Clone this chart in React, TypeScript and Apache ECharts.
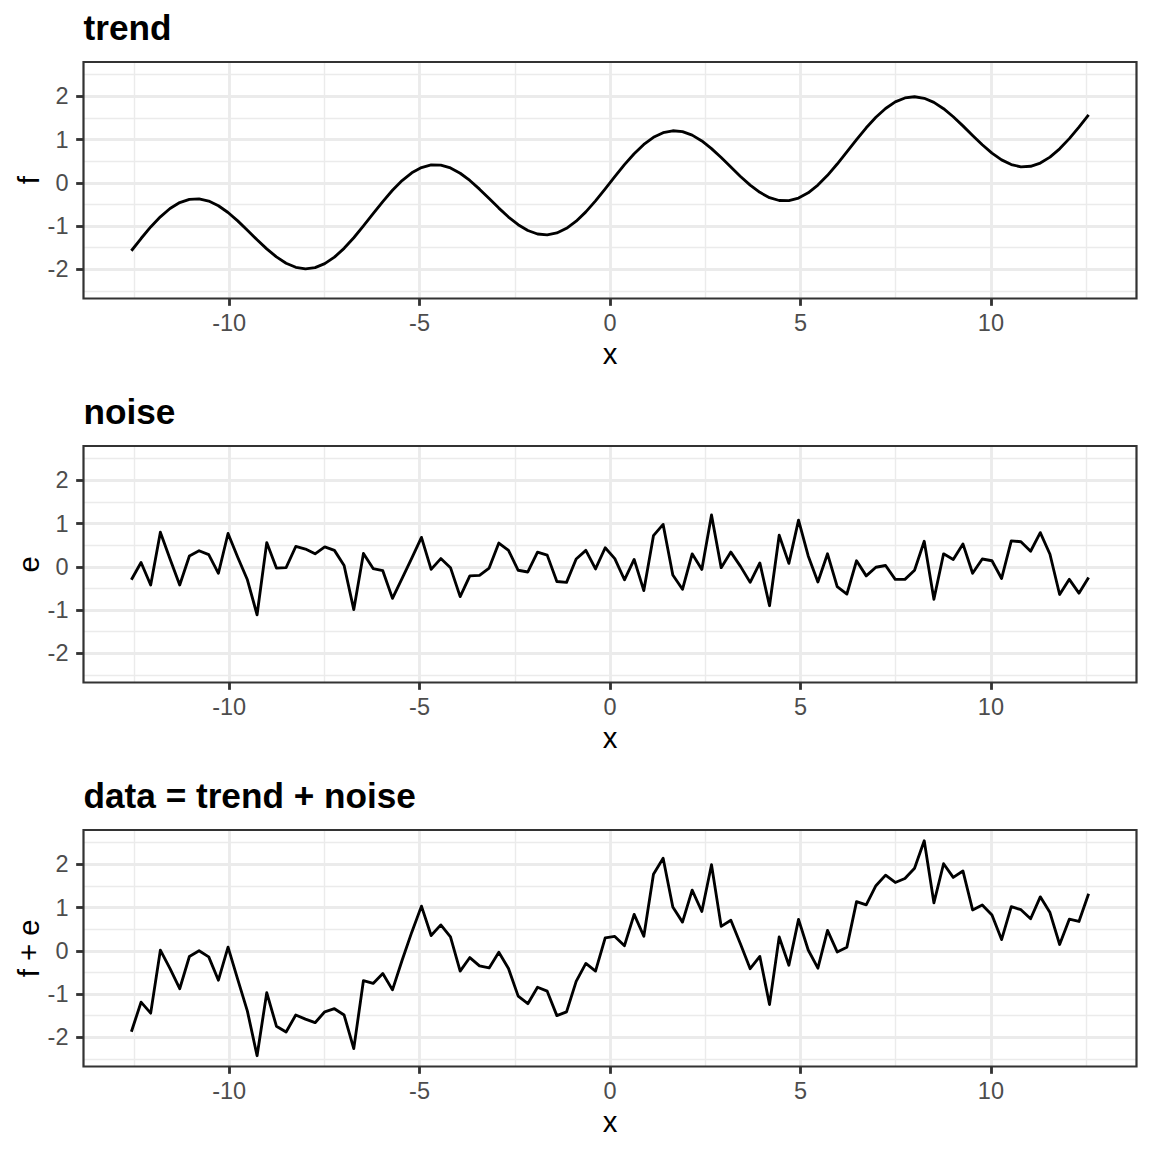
import React, { useEffect, useRef } from "react";
import * as echarts from "echarts";

// x positions of the samples
const xValues = [
  -12.566, -12.312, -12.059, -11.805, -11.551, -11.297, -11.043, -10.789, -10.535, -10.281,
  -10.028, -9.774, -9.52, -9.266, -9.012, -8.758, -8.504, -8.25, -7.996, -7.743,
  -7.489, -7.235, -6.981, -6.727, -6.473, -6.219, -5.965, -5.711, -5.458, -5.204,
  -4.95, -4.696, -4.442, -4.188, -3.934, -3.68, -3.426, -3.173, -2.919, -2.665,
  -2.411, -2.157, -1.903, -1.649, -1.395, -1.141, -0.888, -0.634, -0.38, -0.126,
  0.126, 0.38, 0.634, 0.888, 1.141, 1.395, 1.649, 1.903, 2.157, 2.411,
  2.665, 2.919, 3.173, 3.426, 3.68, 3.934, 4.188, 4.442, 4.696, 4.95,
  5.204, 5.458, 5.711, 5.965, 6.219, 6.473, 6.727, 6.981, 7.235, 7.489,
  7.743, 7.996, 8.25, 8.504, 8.758, 9.012, 9.266, 9.52, 9.774, 10.028,
  10.281, 10.535, 10.789, 11.043, 11.297, 11.551, 11.805, 12.059, 12.312, 12.566,
];

// smooth trend curve f
const trendValues = [
  -1.571, -1.288, -1.021, -0.786, -0.594, -0.457, -0.382, -0.37, -0.421, -0.53,
  -0.686, -0.88, -1.095, -1.316, -1.527, -1.713, -1.859, -1.954, -1.989, -1.962,
  -1.87, -1.719, -1.515, -1.271, -0.998, -0.714, -0.434, -0.173, 0.052, 0.231,
  0.353, 0.413, 0.409, 0.343, 0.221, 0.054, -0.147, -0.365, -0.585, -0.791,
  -0.968, -1.102, -1.183, -1.203, -1.159, -1.052, -0.887, -0.672, -0.419, -0.142,
  0.142, 0.419, 0.672, 0.887, 1.052, 1.159, 1.203, 1.183, 1.102, 0.968,
  0.791, 0.585, 0.365, 0.147, -0.054, -0.221, -0.343, -0.409, -0.413, -0.353,
  -0.231, -0.052, 0.173, 0.434, 0.714, 0.998, 1.271, 1.515, 1.719, 1.87,
  1.962, 1.989, 1.954, 1.859, 1.713, 1.527, 1.316, 1.095, 0.88, 0.686,
  0.53, 0.421, 0.37, 0.382, 0.457, 0.594, 0.786, 1.021, 1.288, 1.571,
];

// noise e
const noiseValues = [
  -0.3, 0.1, -0.42, 0.8, 0.18, -0.42, 0.25, 0.37, 0.28, -0.15,
  0.77, 0.22, -0.3, -1.11, 0.56, -0.03, -0.02, 0.47, 0.41, 0.3,
  0.46, 0.38, 0.03, -0.99, 0.31, -0.04, -0.09, -0.73, -0.27, 0.2,
  0.68, -0.06, 0.19, -0.02, -0.69, -0.21, -0.2, -0.03, 0.55, 0.38,
  -0.08, -0.12, 0.34, 0.27, -0.34, -0.36, 0.18, 0.38, -0.05, 0.44,
  0.19, -0.3, 0.17, -0.55, 0.72, 0.98, -0.19, -0.52, 0.3, -0.06,
  1.2, -0.02, 0.34, 0.01, -0.36, 0.09, -0.9, 0.73, 0.08, 1.08,
  0.25, -0.35, 0.3, -0.46, -0.63, 0.14, -0.21, -0.01, 0.03, -0.29,
  -0.29, -0.08, 0.59, -0.75, 0.3, 0.17, 0.53, -0.15, 0.18, 0.14,
  -0.27, 0.6, 0.58, 0.36, 0.79, 0.29, -0.64, -0.29, -0.61, -0.25,
];

const panelTitles = ["trend", "noise", "data = trend + noise"];
const yAxisTitles = ["f", "e", "f + e"];
const xAxisTitle = "x";
const xTickValues = [-10, -5, 0, 5, 10];
const xMinorValues = [-12.5, -7.5, -2.5, 2.5, 7.5, 12.5];
const yTickValues = [-2, -1, 0, 1, 2];
const yMinorValues = [-2.5, -1.5, -0.5, 0.5, 1.5, 2.5];
const xLimits = [-13.823, 13.823];
const yLimits = [-2.675, 2.793];

const FONT = "'Liberation Sans', Arial, Helvetica, sans-serif";
const PANEL_LEFT = 83.5;
const PANEL_WIDTH = 1053;
const PANEL_TOP = 62;
const PANEL_HEIGHT = 236.5;
const PANEL_STEP = 384;
const MAJOR_W = 2.84;
const MINOR_W = 1.42;
const BORDER_W = 2.2;
const GRID_COLOR = "#EBEBEB";
const DARK = "#333333";

export default function App() {
  const ref = useRef<HTMLDivElement>(null);

  useEffect(() => {
    document.body.style.margin = "0";
    if (!ref.current) return;
    const chart = echarts.init(ref.current, undefined, { renderer: "svg" });

    const dataValues = trendValues.map((t, i) => +(t + noiseValues[i]).toFixed(3));
    const panelSeries = [trendValues, noiseValues, dataValues];

    const grids: any[] = [];
    const xAxes: any[] = [];
    const yAxes: any[] = [];
    const series: any[] = [];
    const titles: any[] = [];
    const graphics: any[] = [];

    panelSeries.forEach((vals, p) => {
      const top = PANEL_TOP + p * PANEL_STEP;
      grids.push({
        left: PANEL_LEFT,
        top,
        width: PANEL_WIDTH,
        height: PANEL_HEIGHT,
        containLabel: false,
        outerBoundsMode: "none",
        show: true,
        backgroundColor: "#FFFFFF",
        borderWidth: 0,
      });
      // major x axis
      xAxes.push({
        type: "value",
        gridIndex: p,
        position: "bottom",
        min: xLimits[0],
        max: xLimits[1],
        axisLine: { show: false, onZero: false },
        axisTick: {
          show: true,
          customValues: xTickValues,
          length: 7.33,
          lineStyle: { color: DARK, width: MAJOR_W },
        },
        axisLabel: {
          show: true,
          customValues: xTickValues,
          margin: 12,
          color: "#4D4D4D",
          fontSize: 23.5,
          fontFamily: FONT,
        },
        splitLine: { show: true, lineStyle: { color: GRID_COLOR, width: MAJOR_W } },
        name: xAxisTitle,
        nameLocation: "middle",
        nameGap: 40,
        nameMoveOverlap: false,
        nameTextStyle: { color: "#000000", fontSize: 29.3, fontFamily: FONT },
      });
      // minor x grid
      xAxes.push({
        type: "value",
        gridIndex: p,
        position: "top",
        min: xLimits[0],
        max: xLimits[1],
        axisLine: { show: false, onZero: false },
        axisTick: { show: false, customValues: xMinorValues },
        axisLabel: { show: false, customValues: xMinorValues },
        splitLine: { show: true, lineStyle: { color: GRID_COLOR, width: MINOR_W } },
      });
      // major y axis
      yAxes.push({
        type: "value",
        gridIndex: p,
        position: "left",
        min: yLimits[0],
        max: yLimits[1],
        axisLine: { show: false, onZero: false },
        axisTick: {
          show: true,
          customValues: yTickValues,
          length: 7.33,
          lineStyle: { color: DARK, width: MAJOR_W },
        },
        axisLabel: {
          show: true,
          customValues: yTickValues,
          margin: 15,
          color: "#4D4D4D",
          fontSize: 23.5,
          fontFamily: FONT,
        },
        splitLine: { show: true, lineStyle: { color: GRID_COLOR, width: MAJOR_W } },
        name: yAxisTitles[p],
        nameLocation: "middle",
        nameGap: 41,
        nameRotate: 90,
        nameMoveOverlap: false,
        nameTextStyle: { color: "#000000", fontSize: 29.3, fontFamily: FONT },
      });
      // minor y grid
      yAxes.push({
        type: "value",
        gridIndex: p,
        position: "right",
        min: yLimits[0],
        max: yLimits[1],
        axisLine: { show: false, onZero: false },
        axisTick: { show: false, customValues: yMinorValues },
        axisLabel: { show: false, customValues: yMinorValues },
        splitLine: { show: true, lineStyle: { color: GRID_COLOR, width: MINOR_W } },
      });
      series.push({
        type: "line",
        xAxisIndex: p * 2,
        yAxisIndex: p * 2,
        data: xValues.map((x, i) => [x, vals[i]]),
        showSymbol: false,
        symbol: "none",
        lineStyle: { color: "#000000", width: MAJOR_W, join: "round", cap: "butt" },
        z: 5,
        silent: true,
      });
      titles.push({
        text: panelTitles[p],
        left: PANEL_LEFT,
        top: 10 + p * PANEL_STEP,
        padding: 0,
        textStyle: {
          color: "#000000",
          fontSize: 35.2,
          fontWeight: "bold",
          fontFamily: FONT,
        },
      });
      graphics.push({
        type: "rect",
        silent: true,
        z: 100,
        shape: { x: PANEL_LEFT, y: top, width: PANEL_WIDTH, height: PANEL_HEIGHT },
        style: { fill: "none", stroke: DARK, lineWidth: BORDER_W },
      });
    });

    chart.setOption({
      animation: false,
      backgroundColor: "#FFFFFF",
      title: titles,
      grid: grids,
      xAxis: xAxes,
      yAxis: yAxes,
      series,
      graphic: graphics,
    });

    return () => chart.dispose();
  }, []);

  return (
    <div
      ref={ref}
      style={{ position: "absolute", left: 0, top: 0, width: 1152, height: 1152 }}
    />
  );
}
